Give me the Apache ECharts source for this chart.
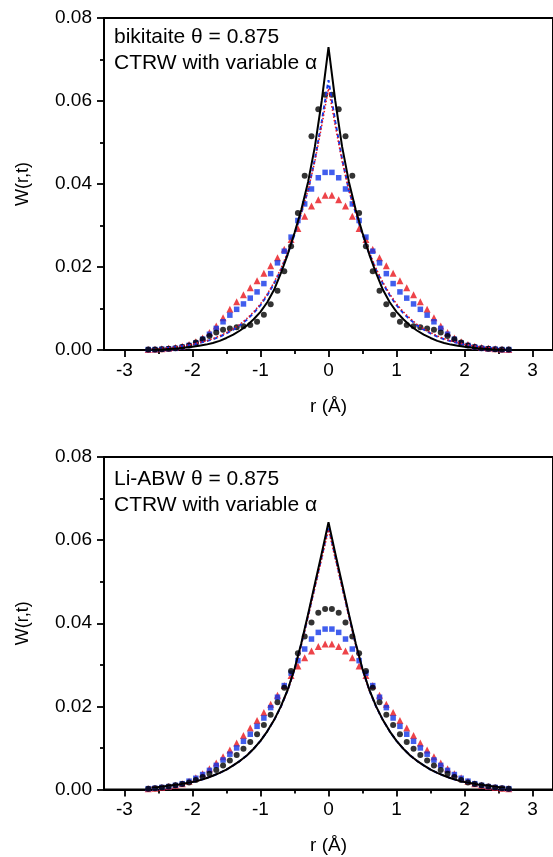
<!DOCTYPE html>
<html><head><meta charset="utf-8">
<script src="https://cdn.jsdelivr.net/npm/echarts@6/dist/echarts.min.js"></script>
<style>html,body{margin:0;padding:0;background:#fff}#c{width:553px;height:857px}</style>
</head><body><div id="c"></div>
<script>
// half-profiles (r >= 0); the distributions are symmetric in r
const rLine = [0,0.1,0.2,0.3,0.4,0.5,0.6,0.7,0.8,0.9,1.0,1.1,1.2,1.3,1.4,1.5,1.6,1.7,1.8,1.9,2.0,2.1,2.2,2.3,2.4,2.5,2.6];
const rPts  = [0.05,0.15,0.25,0.35,0.45,0.55,0.65,0.75,0.85,0.95,1.05,1.15,1.25,1.35,1.45,1.55,1.65,1.75,1.85,1.95,2.05,2.15,2.25,2.35,2.45,2.55,2.65];

// top panel: bikitaite
const topBlackLine = [0.073,0.060,0.049,0.0405,0.0338,0.0282,0.023,0.0185,0.0145,0.0115,0.0092,0.0074,0.0059,0.0047,0.0037,0.0029,0.0022,0.0017,0.0013,0.001,0.0008,0.0006,0.0004,0.0003,0.0002,0.00015,0.0001];
const topBlueLine  = [0.065,0.055,0.046,0.0385,0.033,0.0278,0.0232,0.0193,0.016,0.0132,0.0108,0.0089,0.0073,0.006,0.0049,0.004,0.0032,0.0026,0.0021,0.0017,0.0013,0.001,0.0008,0.0006,0.0004,0.0003,0.0002];
const topRedLine   = [0.063,0.054,0.0455,0.0385,0.0332,0.028,0.0235,0.0196,0.0163,0.0135,0.0111,0.0092,0.0076,0.0062,0.0051,0.0042,0.0034,0.0027,0.0022,0.0018,0.0014,0.0011,0.0008,0.0006,0.0005,0.0003,0.0002];
const topCircles   = [0.0615,0.058,0.0515,0.042,0.033,0.025,0.019,0.0143,0.011,0.0085,0.0068,0.006,0.0057,0.0055,0.0052,0.0049,0.0042,0.0034,0.0026,0.0018,0.0011,0.0007,0.0004,0.0003,0.0002,0.0001,0.0001];
const topSquares   = [0.0428,0.0415,0.0388,0.0352,0.0312,0.0272,0.0238,0.021,0.0184,0.016,0.014,0.0125,0.0111,0.0098,0.0084,0.0068,0.0052,0.0038,0.0026,0.0017,0.0011,0.0007,0.0004,0.0003,0.0002,0.0001,0.0001];
const topTriangles = [0.0373,0.0362,0.0347,0.0322,0.0293,0.0266,0.0243,0.0222,0.0203,0.0185,0.0167,0.015,0.0133,0.0116,0.0098,0.0078,0.0058,0.0042,0.0029,0.002,0.0013,0.0009,0.0006,0.0004,0.0003,0.0002,0.0001];

// bottom panel: Li-ABW
const botBlackLine = [0.0643,0.0568,0.0495,0.0422,0.0352,0.029,0.024,0.020,0.0167,0.014,0.0117,0.0098,0.0082,0.0069,0.0058,0.0048,0.004,0.0033,0.0027,0.0022,0.0018,0.0015,0.0012,0.001,0.0008,0.0006,0.0005];
const botBlueLine  = [0.0632,0.056,0.0489,0.0418,0.0349,0.0288,0.0239,0.0199,0.0167,0.014,0.0117,0.0098,0.0082,0.0069,0.0058,0.0048,0.004,0.0033,0.0027,0.0022,0.0018,0.0015,0.0012,0.001,0.0008,0.0006,0.0005];
const botRedLine   = [0.0625,0.0555,0.0485,0.0415,0.0347,0.0287,0.0238,0.0199,0.0167,0.014,0.0117,0.0098,0.0082,0.0069,0.0058,0.0048,0.004,0.0033,0.0027,0.0022,0.0018,0.0015,0.0012,0.001,0.0008,0.0006,0.0005];
const botCircles   = [0.0434,0.0425,0.0402,0.0368,0.0328,0.0285,0.0245,0.021,0.018,0.0155,0.0133,0.0114,0.0098,0.0083,0.007,0.0058,0.0047,0.0038,0.003,0.0023,0.0017,0.0013,0.001,0.0007,0.0005,0.0003,0.0002];
const botSquares   = [0.0386,0.0378,0.0362,0.0338,0.031,0.028,0.025,0.0222,0.0197,0.0172,0.0152,0.0133,0.0116,0.01,0.0085,0.0071,0.0058,0.0046,0.0036,0.0027,0.002,0.0014,0.001,0.0007,0.0005,0.0003,0.0002];
const botTriangles = [0.035,0.0344,0.0333,0.0317,0.0297,0.0274,0.025,0.0227,0.0205,0.0185,0.0166,0.0148,0.013,0.0112,0.0095,0.0079,0.0064,0.005,0.0038,0.0028,0.002,0.0014,0.001,0.0007,0.0005,0.0003,0.0002];

const xMajor = [-3,-2,-1,0,1,2,3];
const xMinor = [-2.5,-1.5,-0.5,0.5,1.5,2.5];
const panelTitles = [['bikitaite \u03b8 = 0.875','CTRW with variable \u03b1'],['Li-ABW \u03b8 = 0.875','CTRW with variable \u03b1']];
const xTitle = 'r (\u00c5)';
const yTitle = 'W(r,t)';

function mirror(rs, vs, hasZero){
  const out = [];
  for (let i = rs.length-1; i >= (hasZero?1:0); i--) out.push([-rs[i], vs[i]]);
  for (let i = 0; i < rs.length; i++) out.push([rs[i], vs[i]]);
  return out;
}

const FONT = 'Liberation Sans, Arial, Helvetica, sans-serif';
const BLUE = '#1236e8', RED = '#e8141c';
const grids = [{left:104, top:18, width:453, height:332},{left:104, top:457, width:453, height:332.5}];
const titleTops = [[9,35],[11.5,38]];

const xAxes = [], yAxes = [], series = [], graphics = [];
grids.forEach((g, gi) => {
  xAxes.push({gridIndex:gi, type:'value', min:-3.3, max:3.3, name:xTitle, nameLocation:'middle', nameGap:47,
    nameTextStyle:{fontFamily:FONT, fontSize:19, color:'#000'},
    axisLine:{show:true, onZero:false, lineStyle:{color:'#000', width:2}},
    axisTick:{show:true, inside:false, length:7, customValues:xMajor, lineStyle:{color:'#000', width:1.8}},
    axisLabel:{show:true, customValues:xMajor, margin:11, fontFamily:FONT, fontSize:19, color:'#000', formatter:v=>String(v)},
    splitLine:{show:false}});
  xAxes.push({gridIndex:gi, type:'value', min:-3.3, max:3.3, position:'bottom',
    axisLine:{show:false},
    axisTick:{show:true, inside:false, length:4, customValues:xMinor, lineStyle:{color:'#000', width:1.8}},
    axisLabel:{show:false}, splitLine:{show:false}});
  yAxes.push({gridIndex:gi, type:'value', min:0, max:0.08, interval:0.02, name:yTitle, nameLocation:'middle', nameGap:72,
    nameTextStyle:{fontFamily:FONT, fontSize:18, color:'#000'},
    axisLine:{show:true, onZero:false, lineStyle:{color:'#000', width:2}},
    axisTick:{show:true, inside:false, length:7, lineStyle:{color:'#000', width:1.8}},
    minorTick:{show:true, splitNumber:2, length:4, lineStyle:{color:'#000', width:1.8}},
    axisLabel:{margin:12, fontFamily:FONT, fontSize:19, color:'#000', formatter:v=>v.toFixed(2)},
    splitLine:{show:false}, minorSplitLine:{show:false}});
  graphics.push({type:'text', left:114, top:g.top+titleTops[gi][0], style:{text:panelTitles[gi][0], font:'21px '+FONT, fill:'#000'}});
  graphics.push({type:'text', left:114, top:g.top+titleTops[gi][1], style:{text:panelTitles[gi][1], font:'21px '+FONT, fill:'#000'}});
});

function addPanel(gi, bl, bu, rd, ci, sq, tr){
  const xa = gi*2, ya = gi;
  series.push({type:'scatter', xAxisIndex:xa, yAxisIndex:ya, symbol:'triangle', symbolSize:7, itemStyle:{color:RED}, data:mirror(rPts, tr, false), z:2});
  series.push({type:'scatter', xAxisIndex:xa, yAxisIndex:ya, symbol:'rect', symbolSize:5.5, itemStyle:{color:BLUE}, data:mirror(rPts, sq, false), z:2});
  series.push({type:'scatter', xAxisIndex:xa, yAxisIndex:ya, symbol:'circle', symbolSize:6, itemStyle:{color:'#000'}, data:mirror(rPts, ci, false), z:2});
  series.push({type:'line', xAxisIndex:xa, yAxisIndex:ya, showSymbol:false, symbol:'none', lineStyle:{color:BLUE, width:2, type:[4,3]}, data:mirror(rLine, bu, true), z:3});
  series.push({type:'line', xAxisIndex:xa, yAxisIndex:ya, showSymbol:false, symbol:'none', lineStyle:{color:RED, width:1.5, type:[1.5,2]}, data:mirror(rLine, rd, true), z:4});
  series.push({type:'line', xAxisIndex:xa, yAxisIndex:ya, showSymbol:false, symbol:'none', lineStyle:{color:'#000', width:2}, data:mirror(rLine, bl, true), z:5});
}
addPanel(0, topBlackLine, topBlueLine, topRedLine, topCircles, topSquares, topTriangles);
addPanel(1, botBlackLine, botBlueLine, botRedLine, botCircles, botSquares, botTriangles);

const chart = echarts.init(document.getElementById('c'), null, {renderer:'canvas'});
chart.setOption({
  animation:false,
  backgroundColor:'#fff',
  grid: grids.map(g => Object.assign({show:true, borderColor:'#000', borderWidth:2, backgroundColor:'transparent'}, g)),
  xAxis:xAxes, yAxis:yAxes, series:series, graphic:graphics
});
</script></body></html>
